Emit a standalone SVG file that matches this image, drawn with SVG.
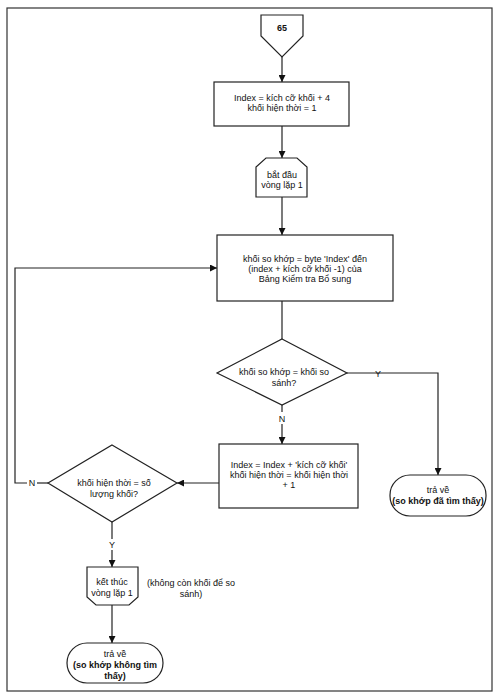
<svg xmlns="http://www.w3.org/2000/svg" width="501" height="697" viewBox="0 0 501 697">
<style>
.s{fill:#fff;stroke:#222;stroke-width:1.2}
.c{fill:none;stroke:#222;stroke-width:1.2}
text{font-family:"Liberation Sans",Arial,sans-serif;font-size:9px;fill:#111;text-anchor:middle}
.b{font-weight:bold}
</style>
<defs>
<marker id="a" viewBox="0 0 10 10" refX="10" refY="5" markerWidth="7" markerHeight="7" orient="auto" markerUnits="userSpaceOnUse">
<path d="M0,0 L10,5 L0,10 z" fill="#111"/>
</marker>
</defs>
<rect x="0" y="0" width="501" height="697" fill="#fff"/>
<rect x="7" y="8" width="485" height="683" fill="none" stroke="#333" stroke-width="1.2"/>
<g id="connectors">
<path class="c" d="M282,57 V82" marker-end="url(#a)"/>
<path class="c" d="M282,126 V158" marker-end="url(#a)"/>
<path class="c" d="M282,197 V235" marker-end="url(#a)"/>
<path class="c" d="M282,301 V339"/>
<path class="c" d="M282,405 V412"/>
<path class="c" d="M282,424 V444" marker-end="url(#a)"/>
<path class="c" d="M347,373 H438 V475" marker-end="url(#a)"/>
<path class="c" d="M219,483 H177" marker-end="url(#a)"/>
<path class="c" d="M48,483 H37"/>
<path class="c" d="M27,483 H15 V268 H217" marker-end="url(#a)"/>
<path class="c" d="M112,522 V539"/>
<path class="c" d="M112,550 V567" marker-end="url(#a)"/>
<path class="c" d="M112,605 V643" marker-end="url(#a)"/>
<text x="378" y="377">Y</text>
<text x="282" y="422">N</text>
<text x="32" y="486">N</text>
<text x="112" y="548">Y</text>
</g>
<g id="n65">
<path class="s" d="M261,15 H303 V36 L282,57 L261,36 Z"/>
<text x="282" y="31" class="b">65</text>
</g>
<g id="init">
<rect class="s" x="214" y="82" width="135" height="44"/>
<text x="282" y="101">Index = kích cỡ khối + 4</text>
<text x="282" y="111">khối hiện thời = 1</text>
</g>
<g id="loopstart">
<path class="s" d="M266,158 H297 L307,167 V197 H256 V167 Z"/>
<text x="282" y="178">bắt đầu</text>
<text x="282" y="188">vòng lặp 1</text>
</g>
<g id="match">
<rect class="s" x="217" y="235" width="176" height="66"/>
<text x="305" y="262">khối so khớp = byte 'Index' đến</text>
<text x="305" y="272">(index + kích cỡ khối -1) của</text>
<text x="305" y="282">Bảng Kiểm tra Bổ sung</text>
</g>
<g id="cmp">
<path class="s" d="M282,339 L347,373 L282,405 L217,373 Z"/>
<text x="284" y="375">khối so khớp = khối so</text>
<text x="284" y="386">sánh?</text>
</g>
<g id="found">
<rect class="s" x="390" y="475" width="96" height="41" rx="20" ry="20"/>
<text x="438" y="493">trả về</text>
<text x="438" y="504" class="b">(so khớp đã tìm thấy)</text>
</g>
<g id="incr">
<rect class="s" x="219" y="444" width="139" height="64"/>
<text x="289" y="468">Index = Index + 'kích cỡ khối'</text>
<text x="289" y="478">khối hiện thời = khối hiện thời</text>
<text x="289" y="488">+ 1</text>
</g>
<g id="cnt">
<path class="s" d="M112,445 L177,483 L112,522 L48,483 Z"/>
<text x="114" y="486">khối hiện thời = số</text>
<text x="114" y="497">lượng khối?</text>
</g>
<g id="loopend">
<path class="s" d="M87,567 H138 V597 L129,605 H96 L87,597 Z"/>
<text x="112" y="585">kết thúc</text>
<text x="112" y="596">vòng lặp 1</text>
</g>
<text x="191" y="586">(không còn khối để so</text>
<text x="191" y="597">sánh)</text>
<g id="notfound">
<rect class="s" x="67" y="643" width="96" height="40" rx="20" ry="20"/>
<text x="115" y="657">trả về</text>
<text x="115" y="668" class="b">(so khớp không tìm</text>
<text x="115" y="679" class="b">thấy)</text>
</g>
</svg>
